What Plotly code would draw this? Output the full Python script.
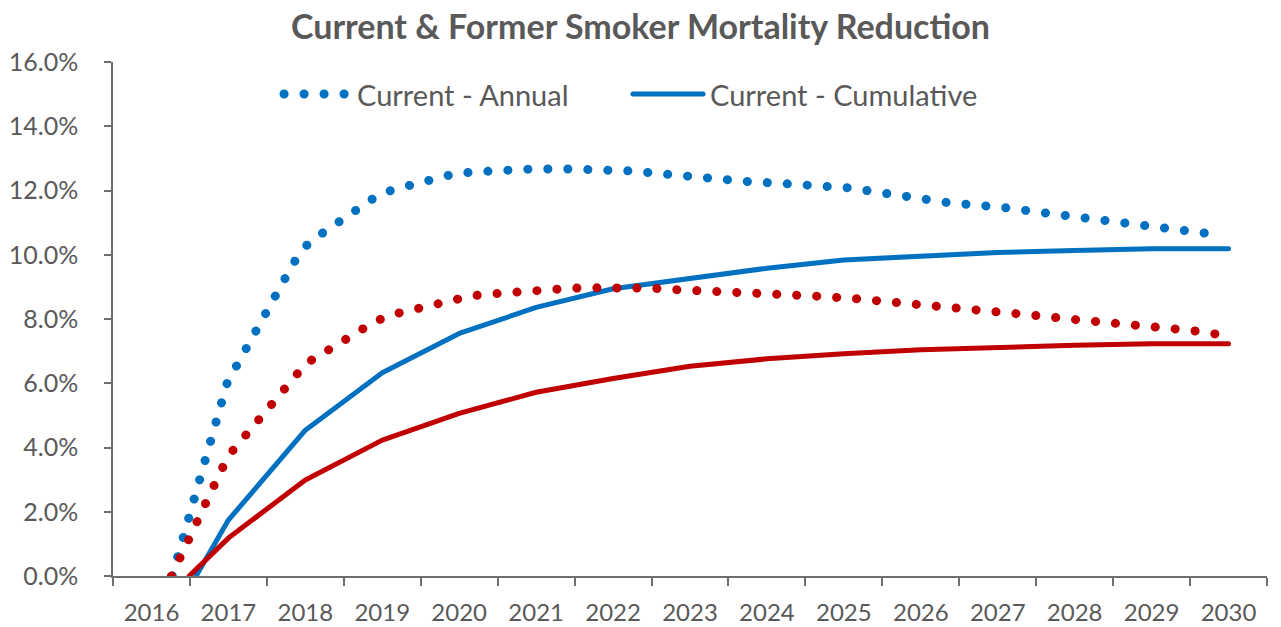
import plotly.graph_objects as go

# 年份（類別軸）
years = list(range(2016, 2031))

# Current - Annual（平滑點線，從圖上讀取）
cur_annual_x = [2016.27, 2016.35, 2016.49, 2016.63, 2016.78, 2016.91, 2016.99, 2017.12, 2017.24,
                2017.37, 2017.50, 2017.63, 2017.75, 2017.88, 2018.04, 2018.25, 2018.46, 2018.68,
                2018.90, 2019.13, 2019.38, 2019.64, 2019.89, 2020.15, 2020.41, 2020.67, 2020.93,
                2021.45, 2021.97, 2022.23, 2022.49, 2022.75, 2023.01, 2023.27, 2023.53, 2023.79,
                2024.05, 2024.31, 2024.57, 2024.83, 2025.09, 2025.35, 2025.61, 2025.87, 2026.13,
                2026.39, 2026.65, 2026.91, 2027.16, 2027.42, 2027.68, 2027.94, 2028.20, 2028.46,
                2028.72, 2028.98, 2029.24, 2029.50, 2029.80]
cur_annual_y = [0.00, 0.65, 1.85, 3.05, 4.24, 5.44, 6.06, 6.60, 7.14,
                7.68, 8.22, 8.77, 9.32, 9.87, 10.36, 10.72, 11.07, 11.42,
                11.78, 12.02, 12.18, 12.34, 12.49, 12.57, 12.61, 12.64, 12.67,
                12.67, 12.67, 12.61, 12.55, 12.48, 12.42, 12.36, 12.33, 12.27,
                12.24, 12.20, 12.17, 12.14, 12.08, 11.98, 11.89, 11.76, 11.65,
                11.61, 11.56, 11.52, 11.45, 11.36, 11.28, 11.21, 11.13, 11.07,
                11.00, 10.95, 10.85, 10.76, 10.64]

# Former - Annual
fmr_annual_x = [2016.26, 2016.33, 2016.44, 2016.56, 2016.67, 2016.78, 2016.89, 2017.01, 2017.17,
                2017.34, 2017.51, 2017.68, 2017.84, 2018.01, 2018.24, 2018.46, 2018.68, 2018.91,
                2019.15, 2019.40, 2019.65, 2019.91, 2020.16, 2020.42, 2020.68, 2020.94, 2021.20,
                2021.46, 2021.72, 2021.98, 2022.24, 2022.50, 2022.76, 2023.03, 2023.55, 2024.07,
                2024.59, 2025.11, 2025.37, 2025.63, 2025.89, 2026.15, 2026.41, 2026.93, 2027.45,
                2027.97, 2028.49, 2028.75, 2029.01, 2029.27, 2029.53, 2029.84]
fmr_annual_y = [0.00, 0.37, 0.94, 1.50, 2.08, 2.65, 3.21, 3.77, 4.24,
                4.72, 5.20, 5.67, 6.16, 6.62, 6.95, 7.27, 7.60, 7.93,
                8.15, 8.30, 8.46, 8.61, 8.72, 8.78, 8.84, 8.90, 8.93,
                8.96, 8.97, 8.99, 8.97, 8.96, 8.92, 8.90, 8.84, 8.78,
                8.72, 8.64, 8.59, 8.54, 8.49, 8.43, 8.36, 8.24, 8.12,
                7.99, 7.88, 7.84, 7.78, 7.71, 7.64, 7.53]

# Cumulative（實線）
cur_cum_x = [2016.58] + years[1:]
cur_cum_y = [0.00, 1.74, 4.54, 6.33, 7.55, 8.36, 8.94, 9.25, 9.58, 9.84, 9.97, 10.07, 10.13, 10.19, 10.19]
fmr_cum_x = [2016.49] + years[1:]
fmr_cum_y = [0.00, 1.18, 2.99, 4.23, 5.06, 5.72, 6.15, 6.53, 6.76, 6.92, 7.04, 7.12, 7.18, 7.23, 7.23]

y_ticks = [0, 2, 4, 6, 8, 10, 12, 14, 16]

BLUE = "#0070C0"
RED = "#C00000"
GREY = "#595959"
AXIS = "#6e6e6e"
FONT = "Lato, Arial"
DOTS = "0.1px,19.9px"

fig = go.Figure()

fig.add_trace(go.Scatter(x=cur_annual_x, y=cur_annual_y, mode="lines", name="Current - Annual",
                         line=dict(color=BLUE, width=9, dash=DOTS)))
fig.add_trace(go.Scatter(x=cur_cum_x, y=cur_cum_y, mode="lines", name="Current - Cumulative",
                         line=dict(color=BLUE, width=5)))
fig.add_trace(go.Scatter(x=fmr_annual_x, y=fmr_annual_y, mode="lines", name="Former - Annual",
                         line=dict(color=RED, width=9, dash=DOTS)))
fig.add_trace(go.Scatter(x=fmr_cum_x, y=fmr_cum_y, mode="lines", name="Former - Cumulative",
                         line=dict(color=RED, width=5)))
# 空 trace，讓年份標籤軸 (x2) 顯示出來
fig.add_trace(go.Scatter(x=years, y=[None] * len(years), xaxis="x2", mode="markers",
                         hoverinfo="skip", showlegend=False))

# 手動圖例（只顯示 Current 兩項）
fig.add_shape(type="line", xref="paper", yref="paper", x0=0.1482, x1=0.2019, y0=0.9377, y1=0.9377,
              line=dict(color=BLUE, width=9, dash=DOTS))
fig.add_shape(type="line", xref="paper", yref="paper", x0=0.4506, x1=0.5113, y0=0.9377, y1=0.9377,
              line=dict(color=BLUE, width=5))
fig.add_annotation(text="Current - Annual", xref="paper", yref="paper", x=0.2097, y=0.9377,
                   xanchor="left", yanchor="middle", showarrow=False,
                   font=dict(family=FONT, size=29, color=GREY))
fig.add_annotation(text="Current - Cumulative", xref="paper", yref="paper", x=0.5156, y=0.9377,
                   xanchor="left", yanchor="middle", showarrow=False,
                   font=dict(family=FONT, size=29, color=GREY))

fig.update_layout(
    width=1281, height=627,
    margin=dict(l=113, r=14, t=62, b=51),
    paper_bgcolor="white", plot_bgcolor="white",
    showlegend=False,
    title=dict(text="<b>Current & Former Smoker Mortality Reduction</b>", x=0.5, xanchor="center",
               y=0.956, yanchor="middle", font=dict(family=FONT, size=34, color=GREY)),
    font=dict(family=FONT, size=24, color=GREY),
    xaxis=dict(range=[2015.5, 2030.5], tickvals=[y - 0.5 for y in years] + [2030.5],
               showticklabels=False, ticks="outside", ticklen=8, tickcolor=AXIS, tickwidth=1.5,
               showline=True, linecolor=AXIS, linewidth=1.5, showgrid=False, zeroline=False,
               automargin=False),
    xaxis2=dict(overlaying="x", anchor="y", side="bottom", range=[2015.5, 2030.5],
                tickvals=years, ticktext=[str(y) for y in years], ticks="",
                ticklabelstandoff=20, showline=False, showgrid=False, zeroline=False,
                automargin=False, tickfont=dict(family=FONT, size=24, color=GREY)),
    yaxis=dict(range=[0, 16], tickvals=y_ticks, ticktext=[f"{v:.1f}%" for v in y_ticks],
               ticks="outside", ticklen=7, tickcolor=AXIS, tickwidth=1.5,
               showline=True, linecolor=AXIS, linewidth=1.5, showgrid=False, zeroline=False,
               automargin=False, ticklabelstandoff=21, tickfont=dict(family=FONT, size=25, color=GREY)),
)

# 圓點線：讓點線端點變圓；去掉頁面預設邊距
css = ("body { margin: 0 !important; } "
       ".js-line, .shapelayer path { stroke-linecap: round !important; stroke-linejoin: round !important; }")
post = "var s=document.createElement('style');s.textContent='" + css + "';document.head.appendChild(s);"

fig.write_html("out.html", post_script=post, config={"displayModeBar": False})
